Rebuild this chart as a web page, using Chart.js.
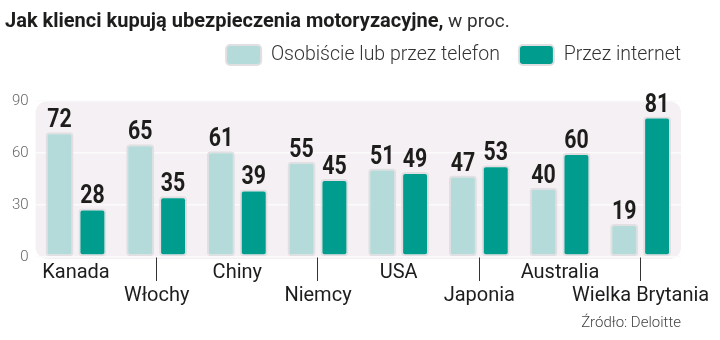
<!DOCTYPE html>
<html lang="pl">
<head>
<meta charset="utf-8">
<script src="https://cdn.jsdelivr.net/npm/chart.js@4.4.1/dist/chart.umd.min.js"></script>
<style>
  html, body { margin: 0; padding: 0; background: #fff; }
  #wrap { position: relative; width: 720px; height: 340px; }
  #title {
    position: absolute; left: 5px; top: 8px;
    font: 700 20px Roboto, sans-serif;
    color: #1d1d1b; white-space: nowrap;
  }
  #title span { font-weight: 400; font-size: 19px; color: #333; }
  #source {
    position: absolute; right: 39px; top: 313px; line-height: 18px;
    font: 300 15px Roboto, sans-serif;
    color: #444;
  }
</style>
</head>
<body>
<div id="wrap">
  <canvas id="myChart" width="720" height="340"></canvas>
  <div id="title">Jak klienci kupują ubezpieczenia motoryzacyjne,<span> w proc.</span></div>
  <div id="source">Źródło: Deloitte</div>
</div>
<script>
// data
const countries = ["Kanada", "Włochy", "Chiny", "Niemcy", "USA", "Japonia", "Australia", "Wielka Brytania"];
const offline = [72, 65, 61, 55, 51, 47, 40, 19];
const online = [28, 35, 39, 45, 49, 53, 60, 81];
const seriesNames = ["Osobiście lub przez telefon", "Przez internet"];
const yMax = 90;
const yStep = 30;

// every second country goes on a lower row
const xLabels = countries.map((c, i) => (i % 2 ? ["", c] : [c]));

// rounded grey panel behind the bars
const panelBg = {
  id: "panelBg",
  beforeDraw(chart) {
    const { ctx, chartArea: a } = chart;
    ctx.save();
    ctx.fillStyle = "#f4f0f3";
    ctx.beginPath();
    ctx.roundRect(a.left, a.top, a.right - a.left, a.bottom - a.top + 2, 12);
    ctx.fill();
    ctx.restore();
  },
};

// numbers above the bars, bold and a bit narrowed
const valueLabels = {
  id: "valueLabels",
  afterDatasetsDraw(chart) {
    const { ctx } = chart;
    ctx.save();
    ctx.font = "bold 26px Roboto, sans-serif";
    ctx.fillStyle = "#1d1d1b";
    ctx.textAlign = "center";
    ctx.textBaseline = "alphabetic";
    chart.data.datasets.forEach((ds, di) => {
      chart.getDatasetMeta(di).data.forEach((bar, i) => {
        ctx.save();
        ctx.translate(bar.x, bar.y - 5);
        ctx.scale(0.82, 1);
        ctx.fillText(ds.data[i], 0, 0);
        ctx.restore();
      });
    });
    ctx.restore();
  },
};

const ctx = document.getElementById("myChart");
new Chart(ctx, {
  type: "bar",
  data: {
    labels: xLabels,
    datasets: [
      {
        label: seriesNames[0],
        data: offline,
        backgroundColor: "#b4dbd9",
        borderColor: "#e2dfe2",
        borderWidth: 2,
        borderRadius: 4,
        borderSkipped: false,
      },
      {
        label: seriesNames[1],
        data: online,
        backgroundColor: "#009d8f",
        borderColor: "#e2dfe2",
        borderWidth: 2,
        borderRadius: 4,
        borderSkipped: false,
      },
    ],
  },
  options: {
    responsive: false,
    animation: false,
    devicePixelRatio: 1,
    layout: { padding: { top: 26, left: 5, right: 20, bottom: 23 } },
    datasets: {
      bar: { categoryPercentage: 0.815, barPercentage: 0.85 },
    },
    plugins: {
      legend: {
        position: "top",
        align: "end",
        labels: {
          boxWidth: 35,
          boxHeight: 20,
          useBorderRadius: true,
          borderRadius: 4,
          padding: 19,
          color: "#333",
          font: { family: "Roboto", weight: 300, size: 19.5 },
        },
      },
      // empty strip between the legend and the plot
      subtitle: {
        display: true,
        text: "",
        weight: 500,
        font: { size: 10, lineHeight: 1 },
        padding: { top: 0, bottom: 16 },
      },
      tooltip: { enabled: false },
    },
    scales: {
      x: {
        grid: {
          offset: false,
          drawOnChartArea: false,
          tickLength: 24,
          tickWidth: 1,
          tickColor: (c) => (c.index % 2 ? "#333" : "rgba(0,0,0,0)"),
        },
        border: { display: false },
        ticks: {
          autoSkip: false,
          maxRotation: 0,
          padding: -20,
          color: "#1d1d1b",
          font: { family: "Roboto", size: 20, lineHeight: 1.15 },
        },
        // two label rows, plot edges fixed
        afterFit: (scale) => {
          scale.height = 60;
          scale.paddingLeft = 35;
          scale.paddingRight = 39;
        },
      },
      y: {
        min: 0,
        max: yMax,
        grid: { color: "#fcfbfc", lineWidth: 1.5, drawTicks: false },
        border: { display: false },
        ticks: {
          stepSize: yStep,
          padding: 7,
          color: "#666",
          font: { family: "Roboto", weight: 300, size: 15 },
        },
      },
    },
  },
  plugins: [panelBg, valueLabels],
});
</script>
</body>
</html>
